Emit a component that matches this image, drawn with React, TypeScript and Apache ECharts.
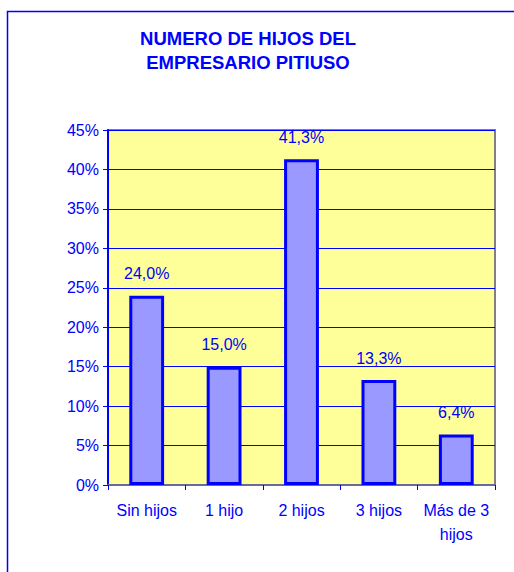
import React, { useEffect, useRef } from "react";
import * as echarts from "echarts";

const categories = ["Sin hijos", "1 hijo", "2 hijos", "3 hijos", "Más de 3\nhijos"];
const values = [24.0, 15.0, 41.3, 13.3, 6.4];
const titleLines = ["NUMERO DE HIJOS DEL", "EMPRESARIO PITIUSO"];

export default function App() {
  const ref = useRef<HTMLDivElement>(null);
  useEffect(() => {
    if (!ref.current) return;
    const chart = echarts.init(ref.current, undefined, { renderer: "svg" });
    const font = "Liberation Sans, Arial, sans-serif";
    chart.setOption({
      animation: false,
      backgroundColor: "#ffffff",
      title: {
        text: titleLines.join("\n"),
        left: 248,
        textAlign: "center",
        top: 26,
        padding: 0,
        textStyle: {
          color: "#0000ff",
          fontFamily: font,
          fontWeight: "bold",
          fontSize: 18.5,
          lineHeight: 24,
        },
      },
      graphic: [
        {
          type: "polyline",
          shape: { points: [[7.5, 600], [7.5, 11.5], [600, 11.5]] },
          style: { stroke: "#0000ff", lineWidth: 1.5, fill: "none" },
          silent: true,
        },
      ],
      grid: {
        left: 108,
        top: 130,
        right: 19,
        bottom: 87,
        show: true,
        backgroundColor: "#ffff99",
        borderColor: "#808080",
        borderWidth: 2,
      },
      xAxis: {
        type: "category",
        data: categories,
        axisLine: { lineStyle: { color: "#6a6a9a", width: 2 } },
        axisTick: { show: true, length: 5, lineStyle: { color: "#0000ff" } },
        axisLabel: {
          color: "#0000ff",
          fontFamily: font,
          fontSize: 16,
          lineHeight: 24,
          margin: 13,
          interval: 0,
        },
      },
      yAxis: {
        type: "value",
        min: 0,
        max: 45,
        interval: 5,
        axisLine: { show: true, lineStyle: { color: "#0000ff", width: 2 } },
        axisTick: { show: true, length: 5, lineStyle: { color: "#0000ff" } },
        axisLabel: {
          formatter: "{value}%",
          color: "#0000ff",
          fontFamily: font,
          fontSize: 16,
          margin: 9,
        },
        splitLine: { lineStyle: { color: "#0000ff", width: 1 } },
      },
      series: [
        {
          type: "bar",
          data: values,
          barWidth: "45%",
          itemStyle: { color: "#9999ff", borderColor: "#0000ff", borderWidth: 3 },
          label: {
            show: true,
            position: "top",
            distance: 14,
            color: "#0000ff",
            fontFamily: font,
            fontSize: 16,
            formatter: (p: any) => p.value.toFixed(1).replace(".", ",") + "%",
          },
        },
      ],
    });
    return () => chart.dispose();
  }, []);
  return (
    <div
      ref={ref}
      style={{ position: "fixed", left: 0, top: 0, width: 514, height: 572 }}
    />
  );
}
